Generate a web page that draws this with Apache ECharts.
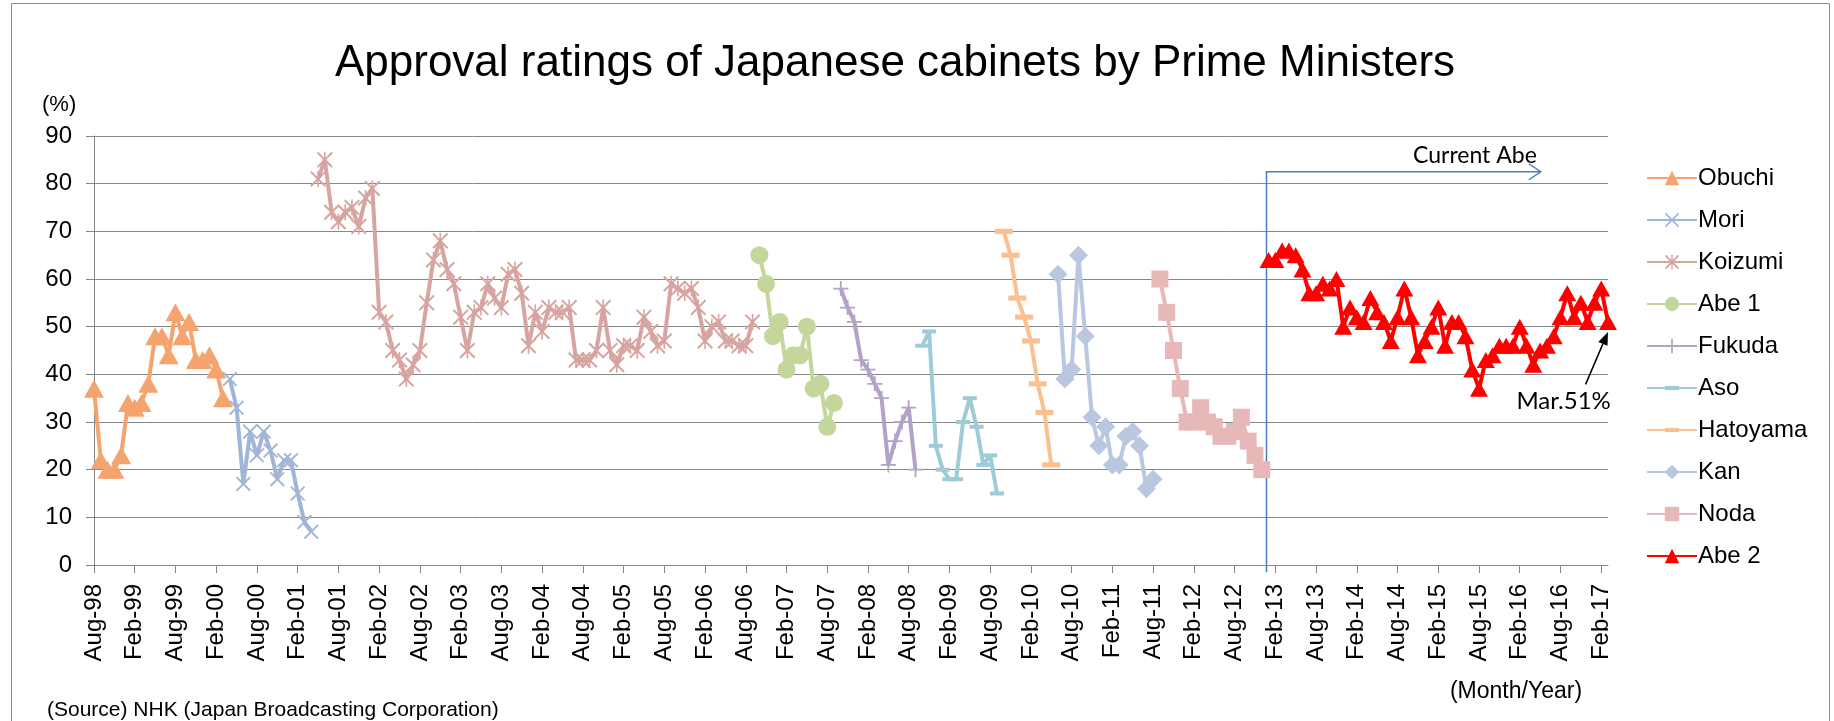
<!DOCTYPE html>
<html><head><meta charset="utf-8">
<script src="https://cdn.jsdelivr.net/npm/echarts@6/dist/echarts.min.js"></script>
<style>html,body{margin:0;padding:0;background:#fff}#c{width:1834px;height:721px}</style>
</head><body><div id="c"></div>
<script>
// ---- categories (monthly, Aug-98 .. Mar-17) ----
const monthNames = ['Jan','Feb','Mar','Apr','May','Jun','Jul','Aug','Sep','Oct','Nov','Dec'];
const months = [];
for (let y = 1998, m = 7; y < 2017 || (y === 2017 && m <= 2); m++) {
  if (m === 12) { m = 0; y++; }
  months.push(monthNames[m] + '-' + String(y % 100).padStart(2, '0'));
}

// ---- series values (NHK approval %, monthly) ----
const obuchiStart = 'Aug-98';
const obuchi = [37,22,20,20,23,34,33,34,38,48,48,44,53,48,51,43,43,44,41,35];
const moriStart = 'Apr-00';
const mori = [39,33,17,28,23,28,24,18,22,22,15,9,7];
const koizumiStart = 'May-01';
const koizumi = [81,85,74,72,74,75,71,77,79,
  53,51,45,43,39,42,45,55,64,68,
  62,59,52,45,53,54,59,56,54,61,
  62,57,46,53,49,54,53,53,54,43,
  43,43,45,54,45,42,46,46,45,52,
  49,46,47,59,58,57,58,54,47,50,
  51,47,47,46,46,51];
const abe1Start = 'Oct-06';
const abe1 = [65,59,48,51,41,44,44,50,37,38,29,34];
const fukudaStart = 'Oct-07';
const fukuda = [58,54,51,43,41,38,35,21,26,30,33,20];
const asoStart = 'Oct-08';
const aso = [46,49,25,20,18,18,30,35,29,21,23,15];
const hatoyamaStart = 'Oct-09';
const hatoyama = [70,65,56,52,47,38,32,21];
const kanStart = 'Jun-10';
const kan = [61,39,41,65,48,31,25,29,21,21,27,28,25,16,18];
const nodaStart = 'Sep-11';
const noda = [60,53,45,37,30,30,33,30,29,27,27,28,31,26,23,20];
const abe2Start = 'Jan-13';
const abe2 = [64,64,66,66,65,62,57,57,59,58,60,50,54,52,51,56,53,51,47,52,
  58,52,44,47,50,54,46,51,51,48,41,37,43,44,46,46,46,50,46,42,
  45,46,48,52,57,52,55,51,55,58,51];

// annotation anchors (in data units)
const currentAbeIdx = 172.7, currentAbeVal = 82.5, currentAbeEndIdx = 213.1;
const lastLabel = 'Mar.51%';

function fill(start, vals) {
  const arr = new Array(months.length).fill(null);
  const s = months.indexOf(start);
  vals.forEach((v, i) => { arr[s + i] = v; });
  return arr;
}

const X_PATH = 'path://M0,0.9L0.9,0L5,4.1L9.1,0L10,0.9L5.9,5L10,9.1L9.1,10L5,5.9L0.9,10L0,9.1L4.1,5Z';
const STAR_PATH = 'path://M0,0.9L0.9,0L5,4.1L9.1,0L10,0.9L5.9,5L10,9.1L9.1,10L5,5.9L0.9,10L0,9.1L4.1,5Z M4.5,0H5.5V10H4.5Z';
const PLUS_PATH = 'path://M4.4,0H5.6V4.4H10V5.6H5.6V10H4.4V5.6H0V4.4H4.4Z';
const DASH_PATH = 'path://M0,0L0,0M0,14L0,14M0,5H14V9H0Z';

const defs = [
  {name:'Obuchi', start:obuchiStart, vals:obuchi, color:'#F6A46F', symbol:'triangle', size:[20,18]},
  {name:'Mori', start:moriStart, vals:mori, color:'#A1B5D8', symbol:X_PATH, size:15},
  {name:'Koizumi', start:koizumiStart, vals:koizumi, color:'#D7A5A1', symbol:STAR_PATH, size:16},
  {name:'Abe 1', start:abe1Start, vals:abe1, color:'#C3D69B', symbol:'circle', size:18},
  {name:'Fukuda', start:fukudaStart, vals:fukuda, color:'#B3A2C7', symbol:PLUS_PATH, size:15},
  {name:'Aso', start:asoStart, vals:aso, color:'#9DCBD8', symbol:DASH_PATH, size:14},
  {name:'Hatoyama', start:hatoyamaStart, vals:hatoyama, color:'#FAC090', symbol:DASH_PATH, size:18},
  {name:'Kan', start:kanStart, vals:kan, color:'#B9C7E0', symbol:'diamond', size:19},
  {name:'Noda', start:nodaStart, vals:noda, color:'#E6B9B8', symbol:'rect', size:17},
  {name:'Abe 2', start:abe2Start, vals:abe2, color:'#FF0000', symbol:'triangle', size:[18,16]}
];

const FONT = '"Liberation Sans", Arial, sans-serif';
const chart = echarts.init(document.getElementById('c'), null, {renderer:'canvas'});

const option = {
  animation: false,
  backgroundColor: '#fff',
  textStyle: {fontFamily: FONT},
  grid: {left: 94, right: 226, top: 136, bottom: 156, containLabel: false},
  xAxis: {
    type: 'category', data: months, boundaryGap: false,
    axisLine: {lineStyle: {color: '#868686', width: 1}},
    axisTick: {show: true, interval: 5, length: 8, inside: false, lineStyle: {color: '#868686'}},
    axisLabel: {interval: 5, rotate: 90, margin: 19, fontSize: 24, color: '#000', fontFamily: FONT},
    splitLine: {show: false}
  },
  yAxis: {
    type: 'value', min: 0, max: 90, interval: 10,
    axisLine: {show: true, lineStyle: {color: '#868686', width: 1}},
    axisTick: {show: true, length: 8, lineStyle: {color: '#868686'}},
    axisLabel: {fontSize: 24, color: '#000', margin: 22, fontFamily: FONT},
    splitLine: {show: true, lineStyle: {color: '#868686', width: 1}}
  },
  legend: {
    orient: 'vertical', left: 1641, top: 161,
    itemWidth: 50, itemHeight: 18, itemGap: 18,
    textStyle: {fontSize: 24, color: '#000', fontFamily: FONT, padding: [0,0,0,-4]},
    data: defs.map(d => d.name)
  },
  series: defs.map(d => ({
    name: d.name, type: 'line', data: fill(d.start, d.vals),
    symbol: d.symbol, symbolSize: d.size, showSymbol: true, showAllSymbol: true,
    connectNulls: false,
    lineStyle: {color: d.color, width: 4},
    itemStyle: {color: d.color},
    emphasis: {disabled: true}
  }))
};
chart.setOption(option);

function pt(idx, val) {
  const i0 = Math.floor(idx), f = idx - i0;
  const a = chart.convertToPixel({gridIndex: 0}, [i0, val]);
  const b = chart.convertToPixel({gridIndex: 0}, [i0 + 1, val]);
  return [a[0] + (b[0] - a[0]) * f, a[1]];
}

const vBottom = pt(currentAbeIdx, -1.5);
const vTop = pt(currentAbeIdx, currentAbeVal);
const hEnd = pt(currentAbeEndIdx, currentAbeVal);
const lastIdx = months.length - 1;
const tip = pt(lastIdx, 48.9);
const tail = pt(lastIdx - 3.3, 37.9);
const ang = Math.atan2(tip[1] - tail[1], tip[0] - tail[0]);
const ah = 13, aw = 5;
const base = [tip[0] - ah * Math.cos(ang), tip[1] - ah * Math.sin(ang)];
const p1 = [base[0] + aw * Math.sin(ang), base[1] - aw * Math.cos(ang)];
const p2 = [base[0] - aw * Math.sin(ang), base[1] + aw * Math.cos(ang)];

chart.setOption({
  graphic: [
    {type:'rect', shape:{x:11.5, y:3.5, width:1818, height:760}, style:{fill:'none', stroke:'#8c8c8c', lineWidth:1}, silent:true},
    {type:'text', style:{text:'Approval ratings of Japanese cabinets by Prime Ministers', x:895, y:64, textAlign:'center', textVerticalAlign:'middle', font:'44px ' + FONT, fill:'#000'}},
    {type:'text', style:{text:'(%)', x:42, y:105, textAlign:'left', textVerticalAlign:'middle', font:'22px ' + FONT, fill:'#000'}},
    {type:'text', style:{text:'(Month/Year)', x:1516, y:692, textAlign:'center', textVerticalAlign:'middle', font:'23px ' + FONT, fill:'#000'}},
    {type:'text', style:{text:'(Source) NHK (Japan Broadcasting Corporation)', x:47, y:710, textAlign:'left', textVerticalAlign:'middle', font:'21px ' + FONT, fill:'#000'}},
    {type:'polyline', shape:{points:[vBottom, vTop, hEnd]}, style:{stroke:'#4A7EBB', lineWidth:1.5, fill:'none'}},
    {type:'polyline', shape:{points:[[hEnd[0]-12, hEnd[1]-8], hEnd, [hEnd[0]-12, hEnd[1]+8]]}, style:{stroke:'#4A7EBB', lineWidth:1.5, fill:'none'}},
    {type:'text', style:{text:'Current Abe', x:hEnd[0]-4, y:vTop[1]-5, textAlign:'right', textVerticalAlign:'bottom', font:'23px Lato, "Noto Sans", sans-serif', fill:'#000'}},
    {type:'line', shape:{x1:tail[0], y1:tail[1], x2:base[0], y2:base[1]}, style:{stroke:'#000', lineWidth:1.5}},
    {type:'polygon', shape:{points:[tip, p1, p2]}, style:{fill:'#000'}},
    {type:'text', style:{text:lastLabel, x:tail[0]-22, y:tail[1]+17, textAlign:'center', textVerticalAlign:'middle', font:'24px Lato, "Noto Sans", sans-serif', fill:'#000'}}
  ]
});
</script></body></html>
